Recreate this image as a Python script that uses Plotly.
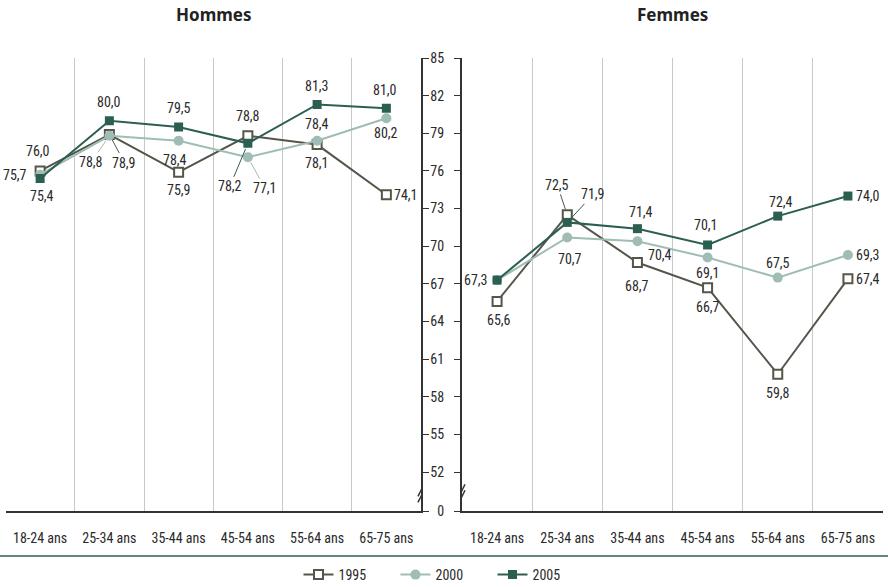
import plotly.graph_objects as go

categories = ["18-24 ans", "25-34 ans", "35-44 ans", "45-54 ans", "55-64 ans", "65-75 ans"]
years = ["1995", "2000", "2005"]

hommes_1995 = [76.0, 78.9, 75.9, 78.8, 78.1, 74.1]
hommes_2000 = [75.7, 78.8, 78.4, 77.1, 78.4, 80.2]
hommes_2005 = [75.4, 80.0, 79.5, 78.2, 81.3, 81.0]

femmes_1995 = [65.6, 72.5, 68.7, 66.7, 59.8, 67.4]
femmes_2000 = [67.3, 70.7, 70.4, 69.1, 67.5, 69.3]
femmes_2005 = [67.3, 71.9, 71.4, 70.1, 72.4, 74.0]

y_tick_vals = [48.9, 52, 55, 58, 61, 64, 67, 70, 73, 76, 79, 82, 85]
y_tick_text = ["0", "52", "55", "58", "61", "64", "67", "70", "73", "76", "79", "82", "85"]
y_break = 50.3

# ---- styling ----
COL = {"1995": "#55564a", "2000": "#9fbdb4", "2005": "#2b5f52"}
SYM = {"1995": "square", "2000": "circle", "2005": "square"}
FILL = {"1995": "white", "2000": "#9fbdb4", "2005": "#2b5f52"}
FONT = "Roboto Condensed, Liberation Sans Narrow, DejaVu Sans Condensed, Roboto, sans-serif"
FS = 14
TXT = "#2a2a2a"

# label placement per point: (anchor, dx, dy, leader)
lab_h = {
    "1995": [("c", -2, -20, 0), ("c", 15, 28, 1), ("c", 0, 18, 0), ("c", 0, -20, 0), ("c", 0, 18, 0), ("l", 6, 0, 0)],
    "2000": [("r", -11, 0, 0), ("c", -18, 26, 1), ("c", -4, 19, 0), ("c", 17, 31, 1), ("c", 0, -17, 0), ("c", 0, 15, 0)],
    "2005": [("c", 2, 18, 0), ("c", 0, -19, 0), ("c", 0, -19, 0), ("c", -18, 43, 1), ("c", 0, -18, 0), ("c", -1, -18, 0)],
}
lab_f = {
    "1995": [("c", 2, 19, 0), ("c", -10, -30, 1), ("c", 0, 23, 0), ("c", 0, 19, 0), ("c", 0, 19, 0), ("l", 6, 0, 0)],
    "2000": [("r", -7, 0, 0), ("c", 3, 22, 0), ("l", 9, 14, 0), ("c", 0, 15, 0), ("c", 0, -15, 0), ("l", 6, 0, 0)],
    "2005": [None, ("c", 26, -28, 1), ("c", 4, -17, 0), ("c", -2, -20, 0), ("c", 3, -14, 0), ("l", 6, 0, 0)],
}

fig = go.Figure()
xs = list(range(len(categories)))
panels = [
    ("x", "y", {"1995": hommes_1995, "2000": hommes_2000, "2005": hommes_2005}, lab_h, True),
    ("x2", "y2", {"1995": femmes_1995, "2000": femmes_2000, "2005": femmes_2005}, lab_f, False),
]

annotations = []
for xa, ya, series, labs, show in panels:
    for yr in years:
        vals = series[yr]
        fig.add_trace(go.Scatter(
            x=xs, y=vals, xaxis=xa, yaxis=ya, name=yr, legendgroup=yr, showlegend=show,
            mode="lines+markers",
            line=dict(color=COL[yr], width=2),
            marker=dict(symbol=SYM[yr], size=9 if SYM[yr] == "square" else 10, color=FILL[yr],
                        line=dict(color=COL[yr], width=2 if yr == "1995" else 0)),
            hoverinfo="skip",
        ))
        for i, v in enumerate(vals):
            spec = labs[yr][i]
            if spec is None:
                continue
            anc, dx, dy, leader = spec
            text = f"{v:.1f}".replace(".", ",")
            base = dict(x=i, y=v, xref=xa, yref=ya, text=text,
                        font=dict(family=FONT, size=FS, color=TXT))
            if leader:
                annotations.append(dict(base, showarrow=True, ax=dx, ay=dy, arrowhead=0,
                                        arrowwidth=1, arrowcolor=COL[yr], standoff=6,
                                        startstandoff=0))
            else:
                xanchor = {"c": "center", "l": "left", "r": "right"}[anc]
                annotations.append(dict(base, showarrow=False, xanchor=xanchor, yanchor="middle",
                                        xshift=dx, yshift=-dy))

W, H = 888, 587
L_PX, R_PX, T_PX, B_PX = 0, 0, 58, 76
left_dom = [5.5 / W, 421 / W]
right_dom = [462 / W, 883 / W]

xcommon = dict(range=[-0.5, len(categories) - 0.5], tickmode="array", tickvals=xs, ticktext=categories,
               showgrid=False, zeroline=False, showline=True, linecolor="#333333", linewidth=2,
               ticks="", tickangle=0, automargin=False, ticklabelstandoff=13,
               tickfont=dict(family=FONT, size=FS, color=TXT),
               minor=dict(tickmode="linear", tick0=-0.5, dtick=1, showgrid=True,
                          gridcolor="#c8c8c8", gridwidth=1, ticks=""))
ycommon = dict(range=[y_tick_vals[0], y_tick_vals[-1]], tickmode="array", tickvals=y_tick_vals,
               ticktext=y_tick_text, showgrid=False, zeroline=False, showline=True, automargin=False,
               linecolor="#333333", linewidth=2, ticks="outside", ticklen=6, tickwidth=1,
               tickcolor="#333333", tickfont=dict(family=FONT, size=FS, color=TXT))

fig.update_layout(
    width=W, height=H,
    margin=dict(l=L_PX, r=R_PX, t=T_PX, b=B_PX, autoexpand=False),
    paper_bgcolor="white", plot_bgcolor="white",
    xaxis=dict(xcommon, domain=left_dom, anchor="y"),
    xaxis2=dict(xcommon, domain=right_dom, anchor="y2"),
    yaxis=dict(ycommon, anchor="x", side="right", showticklabels=False),
    yaxis2=dict(ycommon, anchor="x2", side="left", showticklabels=True, ticklabelstandoff=7),
    legend=dict(orientation="h", x=0.5, xanchor="center", y=-64 / 453, yanchor="middle",
                font=dict(family=FONT, size=FS, color=TXT), entrywidth=52, itemwidth=30,
                traceorder="normal"),
    showlegend=True,
    annotations=annotations + [
        dict(text="<b>Hommes</b>", xref="x domain", yref="paper", x=0.5, y=1 + 43 / 453,
             yanchor="middle", showarrow=False,
             font=dict(family="Noto Sans, DejaVu Sans, sans-serif", size=17, color="#222222")),
        dict(text="<b>Femmes</b>", xref="x2 domain", yref="paper", x=0.5, y=1 + 43 / 453,
             yanchor="middle", showarrow=False,
             font=dict(family="Noto Sans, DejaVu Sans, sans-serif", size=17, color="#222222")),
    ],
)

shapes = [dict(type="line", xref="paper", yref="paper", x0=0, x1=1, y0=-45 / 453, y1=-45 / 453,
               line=dict(color="#5e8a80", width=2))]
# axis breaks
for xa, ya, edge in [("x", "y", len(categories) - 0.5), ("x2", "y2", -0.5)]:
    shapes.append(dict(type="line", xref=xa, yref=ya, xsizemode="pixel", xanchor=edge, x0=0, x1=0,
                       ysizemode="pixel", yanchor=y_break, y0=-8, y1=8,
                       line=dict(color="white", width=5)))
    for off in (-3, 3):
        shapes.append(dict(type="line", xref=xa, yref=ya, xsizemode="pixel", xanchor=edge, x0=-3, x1=3,
                           ysizemode="pixel", yanchor=y_break, y0=off - 6, y1=off + 6,
                           line=dict(color="#333333", width=1.5)))
fig.update_layout(shapes=shapes)

fig.write_html("out.html")
